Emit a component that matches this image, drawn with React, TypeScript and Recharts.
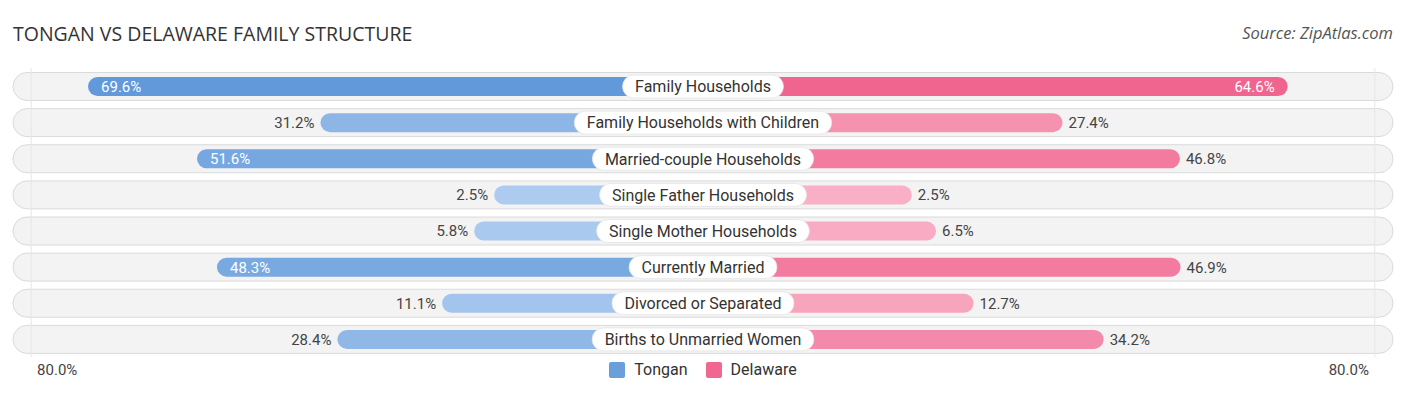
import { Bar, BarChart, LabelList, Legend, ReferenceLine, XAxis, YAxis } from "recharts";

const categories = [
  "Family Households",
  "Family Households with Children",
  "Married-couple Households",
  "Single Father Households",
  "Single Mother Households",
  "Currently Married",
  "Divorced or Separated",
  "Births to Unmarried Women",
];
const tongan = [69.6, 31.2, 51.6, 2.5, 5.8, 48.3, 11.1, 28.4];
const delaware = [64.6, 27.4, 46.8, 2.5, 6.5, 46.9, 12.7, 34.2];
const axisMax = 80;

// bars start behind the centre label, so every bar gets a fixed extra length
const OFFSET = 32;
const DOMAIN = 114;

const data = categories.map((name, i) => ({
  name,
  tongan: tongan[i],
  delaware: delaware[i],
  left: -(OFFSET + tongan[i]),
  right: OFFSET + delaware[i],
}));

const BLUE = "#6a9fdc";
const PINK = "#f06792";

function mix(a: string, b: string, t: number) {
  const pa = [1, 3, 5].map((k) => parseInt(a.slice(k, k + 2), 16));
  const pb = [1, 3, 5].map((k) => parseInt(b.slice(k, k + 2), 16));
  const c = pa.map((v, k) => Math.round(v + (pb[k] - v) * t));
  return "#" + c.map((v) => v.toString(16).padStart(2, "0")).join("");
}
const blueFor = (v: number) => mix("#b0cdf0", "#6199da", Math.min(v / 70, 1));
const pinkFor = (v: number) => mix("#f9b3c8", "#f06590", Math.min(v / 65, 1));

const FONT = "Roboto, sans-serif";
const VALUE_SIZE = 15;

let ctx: CanvasRenderingContext2D | null = null;
function textWidth(s: string, font: string) {
  if (!ctx) ctx = document.createElement("canvas").getContext("2d");
  if (!ctx) return s.length * 8;
  ctx.font = font;
  return ctx.measureText(s).width;
}

const PillBackground = (props: any) => {
  const { x, y, width, height } = props;
  return (
    <rect
      x={x}
      y={y - 4.5}
      width={width}
      height={height + 9}
      rx={14}
      ry={14}
      fill="#f3f3f3"
      stroke="#dadada"
      strokeWidth={1}
    />
  );
};

const LeftValue = (props: any) => {
  const { x, y, width, height, value } = props;
  const edge = Math.min(x, x + width);
  const inside = value > 48;
  return (
    <text
      x={inside ? edge + 13 : edge - 6}
      y={y + height / 2}
      dy="0.36em"
      textAnchor={inside ? "start" : "end"}
      fill={inside ? "#ffffff" : "#444444"}
      fontSize={VALUE_SIZE}
      fontFamily={FONT}
    >
      {`${value.toFixed(1)}%`}
    </text>
  );
};

const RightValue = (props: any) => {
  const { x, y, width, height, value } = props;
  const edge = Math.max(x, x + width);
  const inside = value > 48;
  return (
    <text
      x={inside ? edge - 13 : edge + 6}
      y={y + height / 2}
      dy="0.36em"
      textAnchor={inside ? "end" : "start"}
      fill={inside ? "#ffffff" : "#444444"}
      fontSize={VALUE_SIZE}
      fontFamily={FONT}
    >
      {`${value.toFixed(1)}%`}
    </text>
  );
};

const CategoryLabel = (props: any) => {
  const { x, y, width, height, value } = props;
  const cx = Math.min(x, x + width);
  const w = textWidth(value, `16px ${FONT}`) + 25;
  const cy = y + height / 2;
  return (
    <g>
      <rect
        x={cx - w / 2}
        y={cy - 11.5}
        width={w}
        height={23}
        rx={11.5}
        fill="#ffffff"
        stroke="#e4e4e4"
        strokeWidth={0.8}
      />
      <text
        x={cx}
        y={cy}
        dy="0.36em"
        textAnchor="middle"
        fontSize={16}
        fontFamily={FONT}
        fill="#333333"
      >
        {value}
      </text>
    </g>
  );
};

const AxisTick = (props: any) => {
  const { x, payload } = props;
  const neg = payload.value < 0;
  return (
    <text
      x={neg ? x + 12 : x - 12}
      y={375}
      textAnchor={neg ? "start" : "end"}
      fontSize={VALUE_SIZE}
      fontFamily={FONT}
      fill="#444444"
    >
      {`${axisMax.toFixed(1)}%`}
    </text>
  );
};

const LegendContent = () => (
  <div
    style={{
      display: "flex",
      justifyContent: "center",
      gap: 18,
      fontFamily: FONT,
      fontSize: 16,
      color: "#333333",
    }}
  >
    {[
      { label: "Tongan", color: BLUE },
      { label: "Delaware", color: PINK },
    ].map((item) => (
      <div key={item.label} style={{ display: "flex", alignItems: "center", gap: 9 }}>
        <span
          style={{
            width: 16,
            height: 16,
            borderRadius: 2,
            background: item.color,
            display: "inline-block",
          }}
        />
        <span>{item.label}</span>
      </div>
    ))}
  </div>
);

export default function App() {
  return (
    <div style={{ position: "relative", width: 1406, height: 395, background: "#fff" }}>
      <style>{`body{margin:0}`}</style>
      <div
        style={{
          position: "absolute",
          left: 13,
          top: 20,
          fontFamily: "'Open Sans', sans-serif",
          fontSize: 19.5,
          color: "#333333",
        }}
      >
        TONGAN VS DELAWARE FAMILY STRUCTURE
      </div>
      <div
        style={{
          position: "absolute",
          right: 13,
          top: 21,
          fontFamily: "'Open Sans', sans-serif",
          fontStyle: "italic",
          fontSize: 16.5,
          color: "#555555",
        }}
      >
        Source: ZipAtlas.com
      </div>
      <BarChart
        width={1406}
        height={395}
        data={data}
        layout="vertical"
        stackOffset="sign"
        barSize={19}
        margin={{ top: 68, right: 13, bottom: 8, left: 13 }}
      >
        <XAxis
          type="number"
          domain={[-DOMAIN, DOMAIN]}
          ticks={[-(OFFSET + axisMax), OFFSET + axisMax]}
          axisLine={false}
          tickLine={false}
          tick={<AxisTick />}
          allowDataOverflow
        />
        <YAxis type="category" dataKey="name" hide />
        <Legend
          layout="vertical"
          verticalAlign="middle"
          align="center"
          content={<LegendContent />}
          wrapperStyle={{ top: 360, left: 0, width: 1406 }}
        />
        <ReferenceLine x={-(OFFSET + axisMax) + 1} stroke="#e6e6e6" />
        <ReferenceLine x={OFFSET + axisMax - 1} stroke="#e6e6e6" />
        <Bar
          dataKey="left"
          name="Tongan"
          stackId="a"
          fill={BLUE}
          radius={9.5}
          background={<PillBackground />}
          isAnimationActive={false}
          shape={(p: any) => {
            const x0 = Math.min(p.x, p.x + p.width);
            const w = Math.abs(p.width);
            return (
              <rect
                x={x0}
                y={p.y}
                width={w}
                height={p.height}
                rx={9.5}
                fill={blueFor(p.payload.tongan)}
              />
            );
          }}
        >
          <LabelList dataKey="tongan" content={<LeftValue />} />
        </Bar>
        <Bar
          dataKey="right"
          name="Delaware"
          stackId="a"
          fill={PINK}
          radius={9.5}
          isAnimationActive={false}
          shape={(p: any) => {
            const x0 = Math.min(p.x, p.x + p.width);
            const w = Math.abs(p.width);
            return (
              <rect
                x={x0}
                y={p.y}
                width={w}
                height={p.height}
                rx={9.5}
                fill={pinkFor(p.payload.delaware)}
              />
            );
          }}
        >
          <LabelList dataKey="delaware" content={<RightValue />} />
          <LabelList dataKey="name" content={<CategoryLabel />} />
        </Bar>
      </BarChart>
    </div>
  );
}
